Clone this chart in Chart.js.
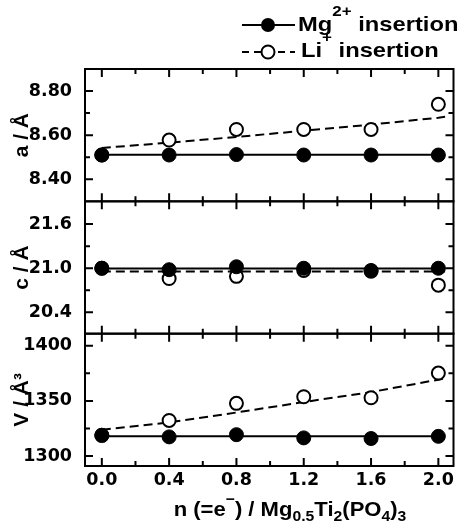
<!DOCTYPE html>
<html>
<head>
<meta charset="utf-8">
<script src="https://cdn.jsdelivr.net/npm/chart.js@4.4.1/dist/chart.umd.min.js"></script>
<style>
html, body { margin: 0; padding: 0; background: #fff; }
#wrap { width: 462px; height: 524px; position: relative; }
</style>
</head>
<body>
<div id="wrap"><canvas id="latticeChart"></canvas></div>
<script>
// n (=e-) per formula unit
const nValues = [0.0, 0.4, 0.8, 1.2, 1.6, 2.0];
const fitX = [0.0, 0.4, 0.8, 1.2, 1.6, 2.0, 2.04];

// a / A
const aMg = [8.51, 8.51, 8.512, 8.51, 8.51, 8.51];
const aLi = [8.51, 8.578, 8.626, 8.626, 8.626, 8.74];
const aMgFit = [8.511, 8.511, 8.511, 8.511, 8.511, 8.511, 8.511];
const aLiFit = [8.542, 8.566, 8.592, 8.620, 8.648, 8.679, 8.683];

// c / A
const cMg = [21.0, 20.98, 21.02, 21.0, 20.97, 21.0];
const cLi = [21.0, 20.86, 20.89, 20.97, 20.96, 20.77];
const cMgFit = [20.995, 20.995, 20.995, 20.995, 20.995, 20.995, 20.995];
const cLiFit = [20.955, 20.955, 20.955, 20.955, 20.955, 20.955, 20.955];

// V / A^3
const vMg = [1318.8, 1317.4, 1319.4, 1316.5, 1315.9, 1317.9];
const vLi = [1318.8, 1332.3, 1347.8, 1353.8, 1352.9, 1375.3];
const vMgFit = [1317.9, 1317.9, 1317.9, 1317.9, 1317.9, 1317.9, 1317.9];
const vLiFit = [1323.9, 1330.5, 1339.5, 1349.0, 1358.0, 1369.3, 1370.5];

// tick labels
const xTicks = [0.0, 0.4, 0.8, 1.2, 1.6, 2.0];
const xMinor = [0.2, 0.6, 1.0, 1.4, 1.8];
const aTicks = [8.40, 8.60, 8.80];
const aMinor = [8.50, 8.70];
const cTicks = [20.4, 21.0, 21.6];
const cMinor = [20.7, 21.3];
const vTicks = [1300, 1350, 1400];
const vMinor = [1325, 1375];

const panels = [
    {id: "ya", title: "a / \u00c5", min: 8.30, max: 8.90, ticks: aTicks, minor: aMinor, digits: 2, mg: aMg, li: aLi, mgFit: aMgFit, liFit: aLiFit},
    {id: "yc", title: "c / \u00c5", min: 20.11, max: 21.91, ticks: cTicks, minor: cMinor, digits: 1, mg: cMg, li: cLi, mgFit: cMgFit, liFit: cLiFit},
    {id: "yv", title: "V / \u00c5\u00b3", min: 1291, max: 1411, ticks: vTicks, minor: vMinor, digits: 0, mg: vMg, li: vLi, mgFit: vMgFit, liFit: vLiFit}
];

const tickFont = {family: "DejaVu Sans", weight: "bold", size: 17.5};
const titleFont = {family: "'Liberation Sans', Arial, sans-serif", weight: "bold", size: 21};

function pairs(xs, ys) {
    return ys.map((y, i) => ({x: xs[i], y: y}));
}

const datasets = [];
panels.forEach(p => {
    datasets.push({
        label: "Mg2+ insertion", yAxisID: p.id, data: pairs(nValues, p.mg),
        showLine: false, pointRadius: 7, pointBackgroundColor: "#000", pointBorderColor: "#000",
        pointBorderWidth: 1, order: 0
    });
    datasets.push({
        label: "Li+ insertion", yAxisID: p.id, data: pairs(nValues, p.li),
        showLine: false, pointRadius: 6.5, pointBackgroundColor: "#fff", pointBorderColor: "#000",
        pointBorderWidth: 2, order: 1
    });
    datasets.push({
        label: "Mg fit", yAxisID: p.id, data: pairs(fitX, p.mgFit),
        showLine: true, pointRadius: 0, borderColor: "#000", borderWidth: 2, order: 2
    });
    datasets.push({
        label: "Li fit", yAxisID: p.id, data: pairs(fitX, p.liFit),
        showLine: true, pointRadius: 0, borderColor: "#000", borderWidth: 2,
        borderDash: [9, 5], order: 3
    });
});

function yScale(p) {
    return {
        type: "linear", position: "left", stack: "panels", stackWeight: 1,
        min: p.min, max: p.max,
        grid: {display: false}, border: {display: false},
        afterBuildTicks: s => { s.ticks = p.ticks.map(v => ({value: v})); },
        afterFit: s => { s.width = 85; },
        ticks: {color: "#000", font: tickFont, padding: 5, callback: v => Number(v).toFixed(p.digits)},
        title: {display: true, text: p.title, color: "#000", font: titleFont, padding: {top: 10, bottom: 0}}
    };
}

// draws text runs with sup / sub parts, sx = horizontal stretch
function drawRich(ctx, runs, x, y, size, align, sx, supUp) {
    const fam = "'Liberation Sans', Arial, sans-serif";
    const big = "bold " + size + "px " + fam;
    const small = "bold " + Math.round(size * 0.72) + "px " + fam;
    const widths = runs.map(r => { ctx.font = r[1] ? small : big; return ctx.measureText(r[0]).width; });
    const total = widths.reduce((a, b) => a + b, 0) * sx;
    const x0 = align === "center" ? x - total / 2 : x;
    ctx.save();
    ctx.translate(x0, y);
    ctx.scale(sx, 1);
    ctx.textBaseline = "alphabetic";
    ctx.textAlign = "left";
    let cx = 0;
    runs.forEach((r, i) => {
        ctx.font = r[1] ? small : big;
        const dy = r[1] === "sup" ? -size * supUp : (r[1] === "sub" ? size * 0.26 : 0);
        ctx.fillText(r[0], cx, dy);
        cx += widths[i];
    });
    ctx.restore();
}

const framePlugin = {
    id: "frames",
    afterDatasetsDraw(chart) {
        const ctx = chart.ctx, area = chart.chartArea, xs = chart.scales.x;
        ctx.save();
        ctx.strokeStyle = "#000";
        ctx.lineWidth = 2;
        panels.forEach(p => {
            const ys = chart.scales[p.id];
            const top = ys.top, bottom = ys.bottom;
            ctx.strokeRect(area.left, top, area.right - area.left, bottom - top);
            ctx.beginPath();
            const xt = (v, len) => {
                const px = xs.getPixelForValue(v);
                ctx.moveTo(px, top); ctx.lineTo(px, top + len);
                ctx.moveTo(px, bottom); ctx.lineTo(px, bottom - len);
            };
            const yt = (v, len) => {
                const py = ys.getPixelForValue(v);
                ctx.moveTo(area.left, py); ctx.lineTo(area.left + len, py);
                ctx.moveTo(area.right, py); ctx.lineTo(area.right - len, py);
            };
            xTicks.forEach(v => xt(v, 8));
            xMinor.forEach(v => xt(v, 5));
            p.ticks.forEach(v => yt(v, 8));
            p.minor.forEach(v => yt(v, 5));
            ctx.stroke();
        });
        ctx.restore();
    },
    afterDraw(chart) {
        const ctx = chart.ctx;
        ctx.save();
        ctx.fillStyle = "#000";
        ctx.strokeStyle = "#000";
        ctx.lineWidth = 2;

        // legend
        ctx.beginPath();
        ctx.moveTo(242, 25); ctx.lineTo(295, 25);
        ctx.stroke();
        ctx.beginPath();
        ctx.arc(268, 25, 7, 0, Math.PI * 2);
        ctx.fill();
        drawRich(ctx, [["Mg"], ["2+", "sup"], [" insertion"]], 298, 31, 21, "left", 1.13, 0.72);

        ctx.setLineDash([7, 5]);
        ctx.beginPath();
        ctx.moveTo(242, 52); ctx.lineTo(295, 52);
        ctx.stroke();
        ctx.setLineDash([]);
        ctx.beginPath();
        ctx.arc(268, 52, 6.5, 0, Math.PI * 2);
        ctx.fillStyle = "#fff";
        ctx.fill();
        ctx.stroke();
        ctx.fillStyle = "#000";
        drawRich(ctx, [["Li"], ["+", "sup"], [" insertion"]], 301, 57, 21, "left", 1.13, 0.72);

        // x title
        drawRich(ctx, [["n (=e"], ["\u2212", "sup"], [") / Mg"], ["0.5", "sub"], ["Ti"], ["2", "sub"],
            ["(PO"], ["4", "sub"], [")"], ["3", "sub"]], 290, 516, 21, "center", 1.05, 0.55);
        ctx.restore();
    }
};

new Chart(document.getElementById("latticeChart"), {
    type: "scatter",
    data: {datasets: datasets},
    options: {
        responsive: true,
        maintainAspectRatio: false,
        animation: false,
        layout: {padding: {top: 69, right: 4, left: 0, bottom: 0}},
        plugins: {legend: {display: false}, tooltip: {enabled: false}},
        scales: {
            x: {
                type: "linear", position: "bottom", min: -0.1, max: 2.09,
                grid: {display: false}, border: {display: false},
                afterBuildTicks: s => { s.ticks = xTicks.map(v => ({value: v})); },
                afterFit: s => { s.height = 58; },
                ticks: {color: "#000", font: tickFont, padding: -4, maxRotation: 0, autoSkip: false,
                    callback: v => Number(v).toFixed(1)}
            },
            yv: yScale(panels[2]),
            yc: yScale(panels[1]),
            ya: yScale(panels[0])
        }
    },
    plugins: [framePlugin]
});
</script>
</body>
</html>
